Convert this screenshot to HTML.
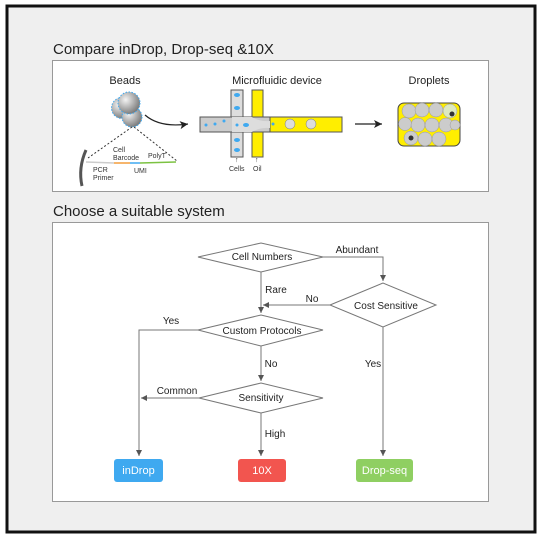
<!DOCTYPE html>
<html><head><meta charset="utf-8"><style>
body{margin:0;width:543px;height:540px;background:#fff;overflow:hidden}
svg text{font-family:"Liberation Sans",Arial,sans-serif}
</style></head><body>
<svg width="543" height="540" viewBox="0 0 543 540" xmlns="http://www.w3.org/2000/svg">
<defs>
<marker id="a" markerWidth="8" markerHeight="8" refX="6" refY="3" orient="auto" markerUnits="userSpaceOnUse"><path d="M0,0 L6,3 L0,6 Z" fill="#555"/></marker>
<marker id="b" markerWidth="10" markerHeight="10" refX="8" refY="4" orient="auto" markerUnits="userSpaceOnUse"><path d="M0,0 L8,4 L0,8 L2,4Z" fill="#222"/></marker>
<radialGradient id="g" cx="0.35" cy="0.35" r="0.7"><stop offset="0" stop-color="#f4f4f4"/><stop offset="1" stop-color="#777"/></radialGradient>
</defs>
<rect x="7" y="6" width="528" height="526" fill="#efefef" stroke="#111" stroke-width="3"/>
<text x="53" y="54" font-size="15" fill="#222">Compare inDrop, Drop-seq &amp;10X</text>
<rect x="52.5" y="60.5" width="436" height="131" fill="#fff" stroke="#999"/>
<text x="53" y="216" font-size="15" fill="#222">Choose a suitable system</text>
<rect x="52.5" y="222.5" width="436" height="279" fill="#fff" stroke="#999"/>

<!-- top panel -->
<text x="125" y="84" font-size="11" text-anchor="middle" fill="#222">Beads</text>
<text x="277" y="84" font-size="11" text-anchor="middle" fill="#222">Microfluidic device</text>
<text x="429" y="84" font-size="11" text-anchor="middle" fill="#222">Droplets</text>
<!-- beads -->
<g stroke="#3fa9f0" stroke-width="1" stroke-dasharray="1.5 1.5" fill="url(#g)">
<circle cx="122" cy="108" r="10.5"/><circle cx="132" cy="117" r="10"/><circle cx="129" cy="103" r="11"/></g>
<path d="M145,115 Q160,128 188,124" fill="none" stroke="#222" stroke-width="1.2" marker-end="url(#b)"/>
<g stroke="#333" stroke-dasharray="2 2" fill="none"><line x1="132" y1="127" x2="88" y2="158"/><line x1="134" y1="127" x2="177" y2="161"/></g>
<path d="M86,150 Q78,168 82,186" fill="none" stroke="#555" stroke-width="3"/>
<line x1="86" y1="162" x2="114" y2="163" stroke="#ccc" stroke-width="1.5"/>
<line x1="114" y1="163" x2="130" y2="163" stroke="#f39c3a" stroke-width="1.5"/>
<line x1="130" y1="163" x2="140" y2="163" stroke="#3fa9f0" stroke-width="1.5"/>
<line x1="140" y1="163" x2="176" y2="162" stroke="#7cc242" stroke-width="1.5"/>
<g font-size="7" fill="#333"><text x="113" y="152">Cell</text><text x="113" y="160">Barcode</text><text x="148" y="158">PolyT</text><text x="93" y="172">PCR</text><text x="93" y="180">Primer</text><text x="134" y="173">UMI</text></g>
<!-- microfluidic -->
<rect x="231" y="90" width="12" height="67" fill="#ddd" stroke="#555"/>
<rect x="252" y="90" width="11" height="67" fill="#ffee00" stroke="#555"/>
<rect x="200" y="117" width="70" height="15" fill="#ccc" stroke="#555"/>
<rect x="270" y="117" width="72" height="15" fill="#ffee00" stroke="#555"/>
<path d="M232,117 L252,117 Q260,122 270,121 L270,128 Q260,127 252,132 L232,132Z" fill="#ddd"/>
<g fill="#3fa9f0"><circle cx="206" cy="125" r="1.5"/><circle cx="215" cy="124" r="1.5"/><circle cx="224" cy="121" r="1.5"/><circle cx="237" cy="125" r="1.5"/><circle cx="273" cy="124" r="1.5"/>
<ellipse cx="237" cy="95" rx="3" ry="2"/><ellipse cx="237" cy="108" rx="3" ry="2"/><ellipse cx="237" cy="140" rx="3" ry="2"/><ellipse cx="237" cy="150" rx="3" ry="2"/><ellipse cx="246" cy="125" rx="3" ry="2"/></g>
<circle cx="290" cy="124" r="5" fill="#ddd" stroke="#777" stroke-width=".5"/><circle cx="311" cy="124" r="5" fill="#ddd" stroke="#777" stroke-width=".5"/>
<g font-size="7" fill="#333"><text x="229" y="171">Cells</text><text x="253" y="171">Oil</text><text x="235" y="162">↑</text><text x="255" y="162">↑</text></g>
<line x1="355" y1="124" x2="382" y2="124" stroke="#222" stroke-width="1.2" marker-end="url(#b)"/>
<!-- droplets -->
<rect x="398" y="103" width="62" height="43" rx="6" fill="#ffee00" stroke="#444"/>
<g fill="#ccc" stroke="#999" stroke-width=".5">
<circle cx="409" cy="111" r="7"/><circle cx="422" cy="110" r="7"/><circle cx="436" cy="110" r="7"/><circle cx="450" cy="111" r="7" fill="#dde9c0"/>
<circle cx="405" cy="124" r="6.5"/><circle cx="418" cy="125" r="7"/><circle cx="432" cy="125" r="7"/><circle cx="446" cy="125" r="7"/><circle cx="455" cy="125" r="5"/>
<circle cx="411" cy="138" r="7"/><circle cx="425" cy="139" r="7"/><circle cx="439" cy="139" r="7"/></g>
<circle cx="411" cy="138" r="2.5" fill="#333"/><circle cx="452" cy="114" r="2.5" fill="#333"/>

<!-- flowchart -->
<g fill="#fff" stroke="#777" stroke-width="1">
<polygon points="198,257 261,243 323,257 261,272"/>
<polygon points="330,305 383,283 436,305 383,327"/>
<polygon points="198,330 261,315 323,330 261,346"/>
<polygon points="199,398 261,383 323,398 261,413"/>
</g>
<g fill="none" stroke="#777" stroke-width="1">
<polyline points="323,257 383,257 383,281" marker-end="url(#a)"/>
<line x1="261" y1="272" x2="261" y2="313" marker-end="url(#a)"/>
<line x1="330" y1="305" x2="263" y2="305" marker-end="url(#a)"/>
<polyline points="198,330 139,330 139,456" marker-end="url(#a)"/>
<line x1="261" y1="346" x2="261" y2="381" marker-end="url(#a)"/>
<line x1="199" y1="398" x2="141" y2="398" marker-end="url(#a)"/>
<line x1="261" y1="413" x2="261" y2="456" marker-end="url(#a)"/>
<line x1="383" y1="327" x2="383" y2="456" marker-end="url(#a)"/>
</g>
<g font-size="10" fill="#222" text-anchor="middle">
<text x="262" y="260">Cell Numbers</text><text x="386" y="309">Cost Sensitive</text>
<text x="262" y="334">Custom Protocols</text><text x="261" y="401">Sensitivity</text>
<text x="357" y="253">Abundant</text><text x="276" y="293">Rare</text><text x="312" y="302">No</text>
<text x="171" y="324">Yes</text><text x="271" y="367">No</text><text x="177" y="394">Common</text>
<text x="275" y="437">High</text><text x="373" y="367">Yes</text>
</g>
<rect x="114" y="459" width="49" height="23" rx="3" fill="#3fa9f0"/>
<rect x="238" y="459" width="48" height="23" rx="3" fill="#f2554f"/>
<rect x="356" y="459" width="57" height="23" rx="3" fill="#8fcf62"/>
<g font-size="11" fill="#fff" text-anchor="middle"><text x="138.5" y="474">inDrop</text><text x="262" y="474">10X</text><text x="384.5" y="474">Drop-seq</text></g>
</svg>
</body></html>
